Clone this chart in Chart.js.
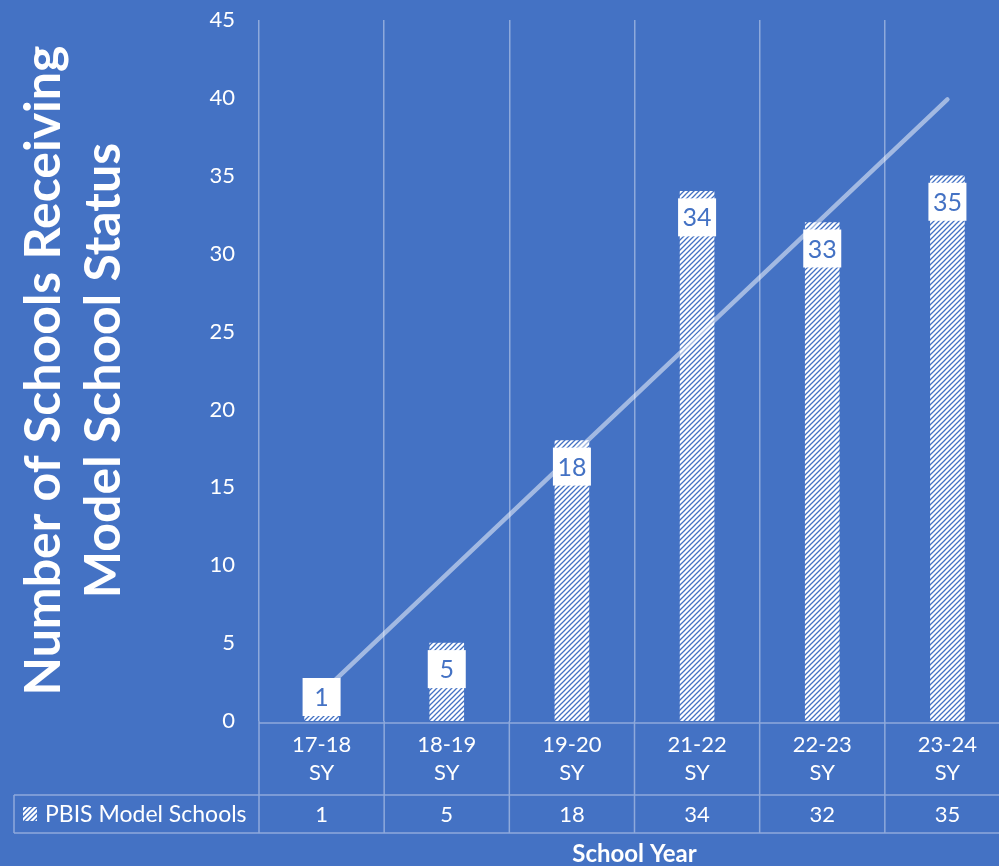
<!DOCTYPE html>
<html>
<head>
<meta charset="utf-8">
<script src="https://cdn.jsdelivr.net/npm/chart.js@4/dist/chart.umd.min.js"></script>
<style>
  html, body { margin: 0; padding: 0; background: #4472C4; overflow: hidden; }
  #wrap { width: 1010px; height: 866px; }
</style>
</head>
<body>
<div id="wrap"><canvas id="chart-area" width="1010" height="866"></canvas></div>
<script>
var years = [["17-18", "SY"], ["18-19", "SY"], ["19-20", "SY"], ["21-22", "SY"], ["22-23", "SY"], ["23-24", "SY"]];
var modelSchools = [1, 5, 18, 34, 32, 35];
// the labels shown on the bars (the chart shows 33 over the 32 bar)
var barLabels = ["1", "5", "18", "34", "33", "35"];
var seriesName = "PBIS Model Schools";
// linear trendline end points
var trendStart = 1.8;
var trendEnd = 39.9;

var blue = "#4472C4";
var lineBlue = "#8EA9DB";
var fontName = "Lato, 'Open Sans', sans-serif";

function makeHatch() {
    var c = document.createElement("canvas");
    c.width = 5; c.height = 5;
    var g = c.getContext("2d");
    g.fillStyle = "#ffffff";
    g.fillRect(0, 0, 5, 5);
    g.strokeStyle = blue;
    g.lineWidth = 1.3;
    g.beginPath();
    g.moveTo(-1, 6); g.lineTo(6, -1);
    g.moveTo(-4, 4); g.lineTo(4, -4);
    g.moveTo(1, 9); g.lineTo(9, 1);
    g.stroke();
    return g.createPattern(c, "repeat");
}

var ctx = document.getElementById("chart-area").getContext("2d");
var hatch = makeHatch();

var trendData = years.map(function () { return null; });
trendData[0] = trendStart;
trendData[trendData.length - 1] = trendEnd;

var barLabelPlugin = {
    id: "barLabels",
    afterDatasetsDraw: function (chart) {
        var c = chart.ctx;
        var meta = chart.getDatasetMeta(1);
        var zero = chart.scales.y.getPixelForValue(0);
        c.save();
        c.font = "25px " + fontName;
        c.textAlign = "center";
        c.textBaseline = "middle";
        meta.data.forEach(function (bar, i) {
            var w = 38, h = 38;
            var top = Math.min(bar.y + 7, zero - 43);
            c.fillStyle = "#ffffff";
            c.fillRect(bar.x - w / 2, top, w, h);
            c.fillStyle = blue;
            c.fillText(barLabels[i], bar.x, top + h / 2 + 1);
        });
        c.restore();
    }
};

var tablePlugin = {
    id: "dataTable",
    afterDraw: function (chart) {
        var c = chart.ctx;
        var x = chart.scales.x;
        var area = chart.chartArea;
        var rowTop = area.bottom + 2;
        var rowMid = 795;
        var rowBot = 833;
        var left = 14;
        c.save();
        c.strokeStyle = lineBlue;
        c.lineWidth = 1.5;
        c.beginPath();
        c.moveTo(area.left, rowTop); c.lineTo(area.right, rowTop);
        c.moveTo(left, rowMid); c.lineTo(area.right, rowMid);
        c.moveTo(left, rowBot); c.lineTo(area.right, rowBot);
        c.moveTo(left, rowMid); c.lineTo(left, rowBot);
        for (var i = 0; i <= years.length; i++) {
            var px = area.left + (area.right - area.left) * i / years.length;
            c.moveTo(px, area.bottom); c.lineTo(px, rowBot);
        }
        c.stroke();

        c.fillStyle = "#ffffff";
        c.font = "22px " + fontName;
        c.textBaseline = "middle";
        c.textAlign = "center";
        modelSchools.forEach(function (v, i) {
            c.fillText(String(v), x.getPixelForValue(i), (rowMid + rowBot) / 2 + 1);
        });
        // legend key
        c.fillStyle = hatch;
        c.fillRect(23, 807, 14, 14);
        c.fillStyle = "#ffffff";
        c.font = "23px " + fontName;
        c.textAlign = "left";
        c.fillText(seriesName, 45, (rowMid + rowBot) / 2 + 1);

        c.font = "bold 24px " + fontName;
        c.textAlign = "center";
        c.fillText("School Year", (area.left + area.right) / 2, 854);
        c.restore();
    }
};

var config = {
    data: {
        labels: years,
        datasets: [{
            type: "line",
            label: "Trend",
            data: trendData,
            spanGaps: true,
            borderColor: "rgba(255,255,255,0.5)",
            borderWidth: 4.5,
            borderCapStyle: "round",
            pointRadius: 0,
            order: 0
        }, {
            type: "bar",
            label: seriesName,
            data: modelSchools,
            backgroundColor: hatch,
            borderWidth: 0,
            barThickness: 34,
            order: 1
        }]
    },
    options: {
        responsive: false,
        animation: false,
        layout: { padding: { left: 0, right: 0, top: 20, bottom: 0 } },
        plugins: {
            legend: { display: false },
            tooltip: { enabled: false }
        },
        scales: {
            x: {
                offset: true,
                grid: { display: true, offset: true, color: lineBlue, lineWidth: 1.5, drawTicks: false },
                border: { display: false },
                ticks: {
                    color: "#ffffff",
                    font: { family: fontName, size: 22, lineHeight: 1.27 },
                    padding: 10,
                    maxRotation: 0
                },
                afterFit: function (s) { s.height = 145; s.paddingLeft = 0; s.paddingRight = 0; }
            },
            y: {
                min: 0,
                max: 45,
                ticks: {
                    stepSize: 5,
                    color: "#ffffff",
                    font: { family: fontName, size: 22 },
                    padding: 24
                },
                grid: { display: false, drawTicks: false },
                border: { display: false },
                title: {
                    display: true,
                    text: ["Number of Schools Receiving", "Model School Status"],
                    color: "#ffffff",
                    font: { family: fontName, size: 50, weight: "bold", lineHeight: 1.2 },
                    padding: { top: 14, bottom: 0 }
                },
                afterFit: function (s) { s.width = 259; s.paddingTop = 0; s.paddingBottom = 0; }
            }
        }
    },
    plugins: [barLabelPlugin, tablePlugin]
};

var myChart = new Chart(ctx, config);
</script>
</body>
</html>
